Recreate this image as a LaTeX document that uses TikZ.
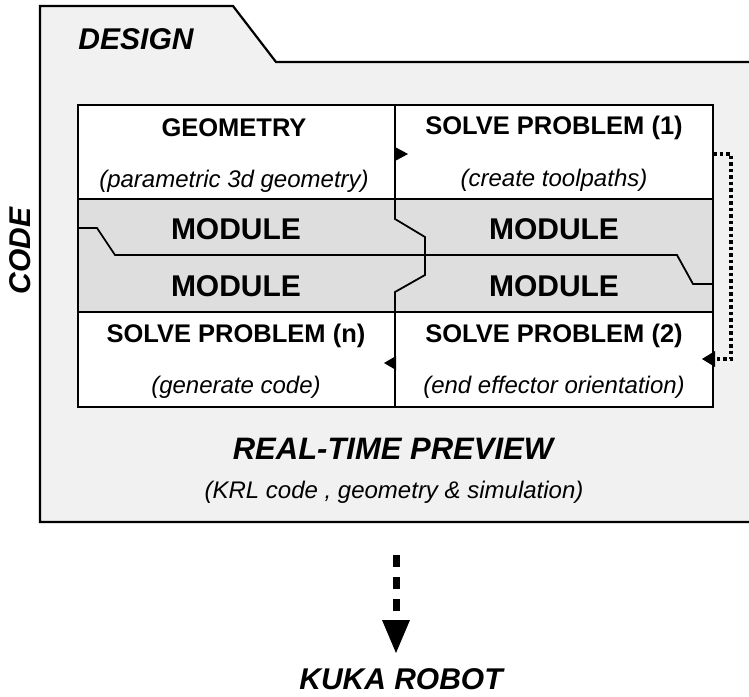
\documentclass[tikz,border=0pt]{standalone}
\usepackage{fontspec}
\setmainfont{Liberation Sans}
\begin{document}
\begin{tikzpicture}[x=1pt,y=-1pt,
  folderfill/.style={fill=black!5.5},
  bandfill/.style={fill=black!13},
  bigb/.style={font=\fontsize{30}{34}\selectfont\bfseries\itshape, inner sep=0pt},
  modtext/.style={font=\fontsize{30}{34}\selectfont\bfseries, inner sep=0pt},
  headtext/.style={font=\fontsize{25.5}{30}\selectfont\bfseries, inner sep=0pt},
  subtext/.style={font=\fontsize{24}{28}\selectfont\itshape, inner sep=0pt},
  tip/.style={fill=black, draw=none}
]
\useasboundingbox (0,0) rectangle (749,696);
\clip (0,0) rectangle (749,696);
\fill[white] (0,0) rectangle (749,696);
% folder
\draw[folderfill, line width=2.2pt, line join=miter] (40,522) -- (40,6) -- (233,6) -- (276,62) -- (770,62) -- (770,522) -- cycle;
\node[bigb] (design) at (136,39) {DESIGN};
\node[bigb, rotate=90] (code) at (20,251) {CODE};
% table
\fill[white] (78,105) rectangle (713,407);
\fill[black!13] (78,199) rectangle (713,312);
\draw[line width=1.1pt] (78,199) -- (713,199);
\draw[line width=1.1pt] (78,312) -- (713,312);
\draw[line width=1.8pt, line join=miter] (395,105) -- (395,219) -- (425,237) -- (425,275) -- (395,292) -- (395,407);
\draw[line width=1.8pt, line join=miter] (78,228) -- (97,228) -- (115,255) -- (677,255) -- (693,284) -- (713,284);
\draw[line width=2.2pt] (78,105) rectangle (713,407);
% texts
\node[headtext] (geo) at (234,128) {GEOMETRY};
\node[subtext] (geosub) at (234,181) {(parametric 3d geometry)};
\node[headtext] (sp1) at (554,128) {SOLVE PROBLEM (1)};
\node[subtext] (sp1sub) at (554,180) {(create toolpaths)};
\node[modtext] (m1) at (236,229) {MODULE};
\node[modtext] (m2) at (236,286) {MODULE};
\node[modtext] (m3) at (554,229) {MODULE};
\node[modtext] (m4) at (554,286) {MODULE};
\node[headtext] (spn) at (236,336) {SOLVE PROBLEM (n)};
\node[subtext] (spnsub) at (236,387) {(generate code)};
\node[headtext] (sp2) at (554,336) {SOLVE PROBLEM (2)};
\node[subtext] (sp2sub) at (554,387) {(end effector orientation)};
\node[font=\fontsize{31}{35}\selectfont\bfseries\itshape, inner sep=0pt] (rtp) at (393,449) {REAL-TIME PREVIEW};
\node[font=\fontsize{24}{28}\selectfont\itshape, inner sep=0pt] (krl) at (394,492) {(KRL code , geometry \& simulation)};
% small arrow tips on middle line
\fill[tip] (395,147) -- (408,154) -- (395,161) -- cycle;
\fill[tip] (396,356) -- (384,363) -- (396,370) -- cycle;
% dotted bracket
\coordinate (bA) at (713,154);
\coordinate (bB) at (731,154);
\coordinate (bC) at (731,359);
\coordinate (bD) at (713,359);
\draw[line width=3.2pt, dash pattern=on 3.5pt off 3pt] (bA) -- (bB) -- (bC) -- (bD);
\fill[tip] (715,351) -- (702,359) -- (715,367) -- cycle;
% robot arrow
\coordinate (dTop) at (396,555);
\coordinate (dBot) at (396,614);
\draw[line width=7pt, dash pattern=on 12pt off 10pt] (dTop) -- (dBot);
\fill[tip] (382,620) -- (410,620) -- (396,653) -- cycle;
\node[bigb] (kuka) at (401,679) {KUKA ROBOT};
\end{tikzpicture}
\end{document}
